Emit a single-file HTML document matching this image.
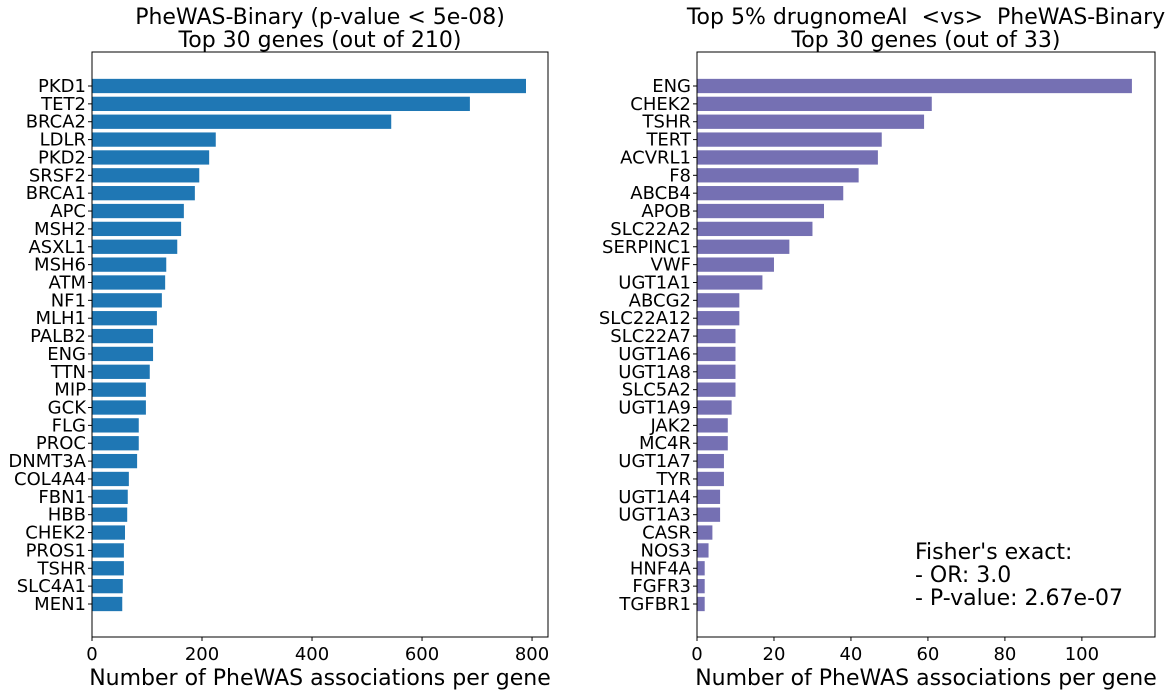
<!DOCTYPE html>
<html><head><meta charset="utf-8"><style>
body{margin:0;background:#fff;}
svg{display:block;font-family:"DejaVu Sans","Liberation Sans",sans-serif;}
text{white-space:pre;}
</style></head><body>
<svg id="chart" width="1171" height="695" viewBox="0 0 1171 695" xmlns="http://www.w3.org/2000/svg"></svg>
<script>
const leftGenes=["PKD1","TET2","BRCA2","LDLR","PKD2","SRSF2","BRCA1","APC","MSH2","ASXL1","MSH6","ATM","NF1","MLH1","PALB2","ENG","TTN","MIP","GCK","FLG","PROC","DNMT3A","COL4A4","FBN1","HBB","CHEK2","PROS1","TSHR","SLC4A1","MEN1"];
const leftValues=[789,687,544,225,213,195,187,167,162,155,135,133,127,118,111,111,105,98,98,85,85,82,67,65,64,60,58,58,56,55];
const leftTicks=[0,200,400,600,800];
const rightGenes=["ENG","CHEK2","TSHR","TERT","ACVRL1","F8","ABCB4","APOB","SLC22A2","SERPINC1","VWF","UGT1A1","ABCG2","SLC22A12","SLC22A7","UGT1A6","UGT1A8","SLC5A2","UGT1A9","JAK2","MC4R","UGT1A7","TYR","UGT1A4","UGT1A3","CASR","NOS3","HNF4A","FGFR3","TGFBR1"];
const rightValues=[113,61,59,48,47,42,38,33,30,24,20,17,11,11,10,10,10,10,9,8,8,7,7,6,6,4,3,2,2,2];
const rightTicks=[0,20,40,60,80,100];

const svg=document.getElementById('chart');
const NS="http://www.w3.org/2000/svg";
function mk(tag,attrs,parent){const e=document.createElementNS(NS,tag);for(const k in attrs)e.setAttribute(k,attrs[k]);(parent||svg).appendChild(e);return e;}

function panel(p){
  const g=mk('g',{});
  
  
  const x=v=>p.x0+(v/p.xmax)*(p.x1-p.x0);
  const step=(p.yLast-p.yFirst)/(p.genes.length-1);
  const y=i=>p.yFirst+i*step;
  const bh=step*0.8;
  p.genes.forEach((gname,i)=>{
    const r=mk('rect',{x:x(0),y:y(i)-bh/2,width:x(p.values[i])-x(0),height:bh,fill:p.color},g);
    
    
    const t=mk('text',{x:p.x0-6,y:y(i)+6,'text-anchor':'end','font-size':18,fill:'#000'},g);
    t.textContent=gname;
    
    
    mk('line',{x1:p.x0-4,x2:p.x0,y1:y(i),y2:y(i),stroke:'#000'},g);
  });
  const f=mk('rect',{x:p.x0,y:p.y0,width:p.x1-p.x0,height:p.y1-p.y0,fill:'none',stroke:'#000','stroke-width':1},g);
  
  
  p.ticks.forEach(v=>{
    mk('line',{x1:x(v),x2:x(v),y1:p.y1,y2:p.y1+4,stroke:'#000'},g);
    const t=mk('text',{x:x(v),y:p.y1+23,'text-anchor':'middle','font-size':18},g);
    t.textContent=v;
    
    
  });
  const xl=mk('text',{x:(p.x0+p.x1)/2,y:685,'text-anchor':'middle','font-size':22},g);
  xl.textContent="Number of PheWAS associations per gene";
  
  
  p.title.forEach((line,i)=>{
    const t=mk('text',{x:(p.x0+p.x1)/2,y:24+i*23,'text-anchor':'middle','font-size':22},g);
    t.textContent=line;
    
    
  });
}
panel({name:'left-panel',x0:92,x1:548,y0:52,y1:637,xmax:829,yFirst:86,yLast:604,genes:leftGenes,values:leftValues,ticks:leftTicks,color:'#1f77b4',title:["PheWAS-Binary (p-value < 5e-08)","Top 30 genes (out of 210)"]});
panel({name:'right-panel',x0:697,x1:1155,y0:52,y1:637,xmax:119,yFirst:86,yLast:604,genes:rightGenes,values:rightValues,ticks:rightTicks,color:'#7570b3',title:["Top 5% drugnomeAI  <vs>  PheWAS-Binary","Top 30 genes (out of 33)"]});
["Fisher's exact:","- OR: 3.0","- P-value: 2.67e-07"].forEach((s,i)=>{
  const t=mk('text',{x:915,y:559+i*23,'font-size':22});
  t.textContent=s;
  
  
});
</script>
</body></html>
